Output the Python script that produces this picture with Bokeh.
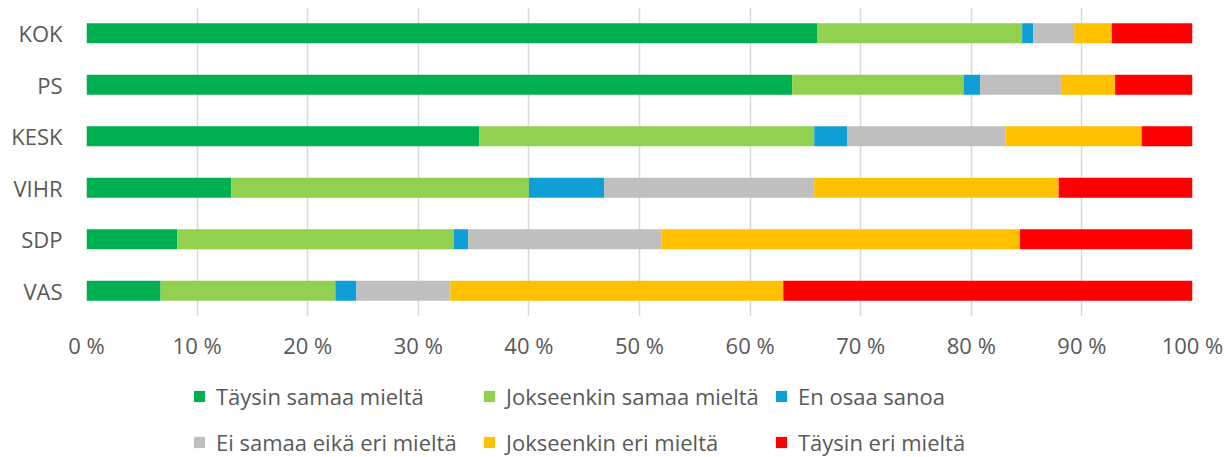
from bokeh.plotting import figure
from bokeh.layouts import column
from bokeh.models import ColumnDataSource, FactorRange, Range1d, Legend, LegendItem, FixedTicker
from bokeh.embed import file_html
from bokeh.resources import INLINE

parties = ["KOK", "PS", "KESK", "VIHR", "SDP", "VAS"]
series_names = ["Täysin samaa mieltä", "Jokseenkin samaa mieltä", "En osaa sanoa",
                "Ei samaa eikä eri mieltä", "Jokseenkin eri mieltä", "Täysin eri mieltä"]
tays_samaa = [66.1, 63.8, 35.5, 13.1, 8.2, 6.7]
jok_samaa = [18.5, 15.5, 30.3, 26.9, 25.0, 15.8]
en_osaa = [1.0, 1.5, 3.0, 6.8, 1.3, 1.9]
ei_samaa = [3.7, 7.3, 14.3, 19.0, 17.5, 8.5]
jok_eri = [3.4, 4.9, 12.3, 22.1, 32.4, 30.1]
tays_eri = [7.3, 7.0, 4.6, 12.1, 15.6, 37.0]
tick_values = [0, 10, 20, 30, 40, 50, 60, 70, 80, 90, 100]
tick_labels = ["0 %", "10 %", "20 %", "30 %", "40 %", "50 %", "60 %", "70 %", "80 %", "90 %", "100 %"]

colors = ["#00B050", "#92D050", "#0F9ED5", "#BFBFBF", "#FFC000", "#FF0000"]
keys = ["s1", "s2", "s3", "s4", "s5", "s6"]

source = ColumnDataSource(dict(party=parties, s1=tays_samaa, s2=jok_samaa, s3=en_osaa,
                               s4=ei_samaa, s5=jok_eri, s6=tays_eri))

FONT = "Open Sans"
TXT = "#595959"
FS = "22px"

p = figure(width=1228, height=366, output_backend="svg", toolbar_location=None,
           y_range=FactorRange(factors=list(reversed(parties))),
           x_range=Range1d(0, 100),
           min_border_left=86, min_border_right=36, min_border_top=7, min_border_bottom=50)
p.outline_line_color = None
p.background_fill_color = "white"
p.border_fill_color = "white"

renderers = p.hbar_stack(keys, y="party", height=0.39, color=colors, line_color=None, source=source)

p.xaxis.ticker = FixedTicker(ticks=tick_values)
p.xaxis.major_label_overrides = {v: l for v, l in zip(tick_values, tick_labels)}
p.xaxis.axis_line_color = None
p.xaxis.major_tick_line_color = None
p.xaxis.minor_tick_line_color = None
p.xaxis.major_tick_out = 0
p.xaxis.major_tick_in = 0
p.xaxis.major_label_text_font = FONT
p.xaxis.major_label_text_font_size = FS
p.xaxis.major_label_text_color = TXT
p.xaxis.major_label_standoff = 13

p.yaxis.axis_line_color = None
p.yaxis.major_tick_line_color = None
p.yaxis.minor_tick_line_color = None
p.yaxis.major_tick_out = 0
p.yaxis.major_tick_in = 0
p.yaxis.major_label_text_font = FONT
p.yaxis.major_label_text_font_size = FS
p.yaxis.major_label_text_color = TXT
p.yaxis.major_label_standoff = 24

p.xgrid.grid_line_color = "#D9D9D9"
p.xgrid.grid_line_width = 1.5
p.ygrid.grid_line_color = None

# legend panel below the chart (hidden copy of the bars supplies the legend swatches)
p2 = figure(width=1228, height=91, output_backend="svg", toolbar_location=None,
            x_range=Range1d(0, 100), y_range=FactorRange(factors=list(reversed(parties))),
            min_border_left=0, min_border_right=0, min_border_top=0, min_border_bottom=0)
p2.outline_line_color = None
p2.axis.visible = False
p2.grid.visible = False
leg_renderers = p2.hbar_stack(keys, y="party", height=0.39, color=colors, line_color=None, source=source)
for r in leg_renderers:
    r.visible = False

cols = [(0, 3), (1, 4), (2, 5)]
xoffs = [106, 396, 688]
for (a, b), xo in zip(cols, xoffs):
    leg = Legend(items=[LegendItem(label=series_names[a], renderers=[leg_renderers[a]]),
                        LegendItem(label=series_names[b], renderers=[leg_renderers[b]])],
                 location=(xo, 0), orientation="vertical",
                 glyph_width=14, glyph_height=14, label_standoff=10,
                 label_text_font=FONT, label_text_font_size=FS, label_text_color=TXT,
                 spacing=16, padding=0, margin=0, border_line_color=None,
                 background_fill_alpha=0, label_height=20,
                 inactive_fill_alpha=0)
    p2.add_layout(leg, "center")

open("out.html", "w").write(file_html(column(p, p2, spacing=0), INLINE))
